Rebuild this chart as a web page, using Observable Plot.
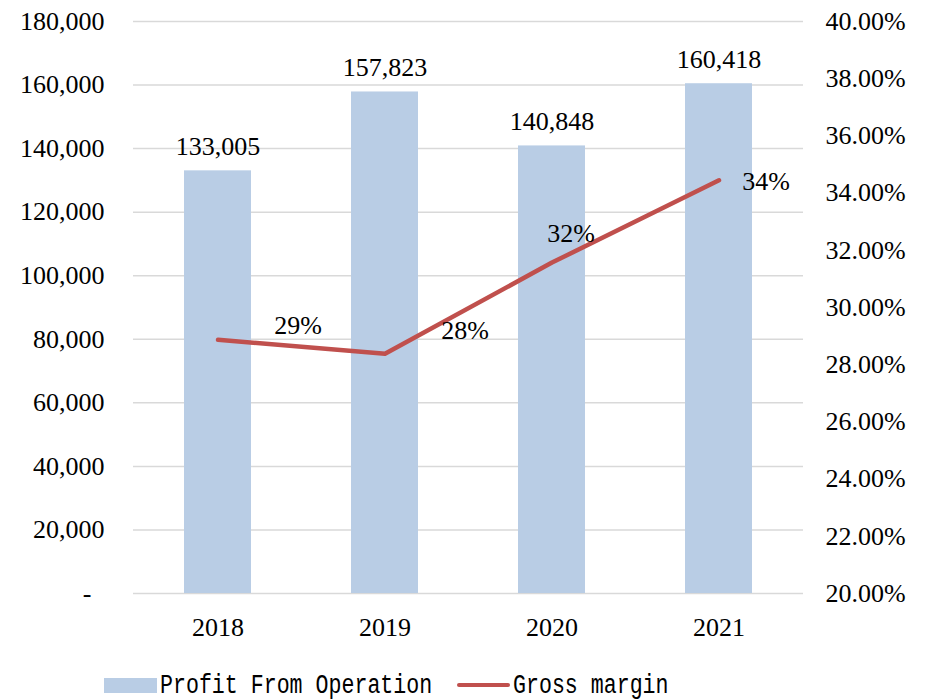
<!DOCTYPE html>
<html><head><meta charset="utf-8">
<script src="https://cdn.jsdelivr.net/npm/d3@7"></script>
<script src="https://cdn.jsdelivr.net/npm/@observablehq/plot@0.6"></script>
<style>
body{margin:0;background:#fff;}
#wrap{position:relative;width:930px;height:700px;font-family:"Liberation Serif","Times New Roman",serif;overflow:hidden;}
#chart svg, #chart svg text{font-family:"Liberation Serif","Times New Roman",serif !important;}
.sw{position:absolute;}
.lt{position:absolute;font-family:"Liberation Mono",monospace;font-size:27px;line-height:1;transform:scaleX(0.8);transform-origin:left center;white-space:nowrap;color:#000;}
</style></head>
<body><div id="wrap"><div id="chart"></div>
<div class="sw" style="left:104px;top:678px;width:53px;height:15px;background:#b9cde5;"></div>
<div class="lt" id="l1" style="left:160px;top:673px;"></div>
<div class="sw" style="left:457px;top:683px;width:53px;height:4px;background:#c0504d;border-radius:2px;"></div>
<div class="lt" id="l2" style="left:513px;top:673px;"></div>
</div>
<script>
const years = ["2018", "2019", "2020", "2021"];
const profit = [133005, 157823, 140848, 160418];
const grossMargin = [28.87, 28.38, 31.57, 34.45];
const marginLabels = ["29%", "28%", "32%", "34%"];
const leftTicks = [0, 20000, 40000, 60000, 80000, 100000, 120000, 140000, 160000, 180000];
const rightTicks = [20, 22, 24, 26, 28, 30, 32, 34, 36, 38, 40];
const seriesNames = ["Profit From Operation", "Gross margin"];

document.getElementById("l1").textContent = seriesNames[0];
document.getElementById("l2").textContent = seriesNames[1];

const FONT = "Liberation Serif, Times New Roman, serif";
const yMax = 180000, pMin = 20, pMax = 40;
const toLeft = p => (p - pMin) / (pMax - pMin) * yMax;
const data = years.map((y, i) => ({year: y, profit: profit[i], margin: grossMargin[i], mlabel: marginLabels[i]}));

// label offsets (style) for the margin labels
const labelOffsets = [[80, -14], [80, -23], [19, -29], [47, 1]];

const marks = [
  Plot.ruleY(leftTicks, {stroke: "#d9d9d9", strokeWidth: 1.5}),
  Plot.barY(data, {x: "year", y: "profit", fill: "#b9cde5"}),
  Plot.lineY(data, {x: "year", y: d => toLeft(d.margin), stroke: "#c0504d", strokeWidth: 4.5, strokeLinecap: "round", strokeLinejoin: "round"}),
  Plot.text(data, {x: "year", y: "profit", text: d => d3.format(",")(d.profit), dy: -24, fontSize: 26, fill: "#000", fontFamily: FONT}),
  ...data.map((d, i) => Plot.text([d], {x: "year", y: e => toLeft(e.margin), text: "mlabel", dx: labelOffsets[i][0], dy: labelOffsets[i][1], fontSize: 26, fill: "#000", fontFamily: FONT})),
  Plot.axisY({ticks: leftTicks, anchor: "left", tickSize: 0, tickPadding: 29, label: null, fontSize: 26, fontFamily: FONT,
    tickFormat: d => d === 0 ? "-\u00a0\u00a0" : d3.format(",")(d)}),
  Plot.axisY({ticks: rightTicks.map(toLeft), anchor: "right", tickSize: 0, tickPadding: 22, label: null, textAnchor: "start", fontSize: 26, fontFamily: FONT,
    tickFormat: v => (v / yMax * (pMax - pMin) + pMin).toFixed(2) + "%"}),
  Plot.axisX({tickSize: 0, tickPadding: 24, label: null, fontSize: 26, fontFamily: FONT})
];

const chart = Plot.plot({
  width: 930, height: 650,
  marginLeft: 133, marginRight: 127, marginTop: 21, marginBottom: 57,
  style: {fontFamily: FONT, fontSize: "26px", color: "#000", background: "#fff"},
  x: {type: "band", domain: years, paddingInner: 0.6, paddingOuter: 0.3, label: null},
  y: {domain: [0, yMax], label: null},
  marks
});
document.getElementById("chart").appendChild(chart);
</script>
</body></html>
